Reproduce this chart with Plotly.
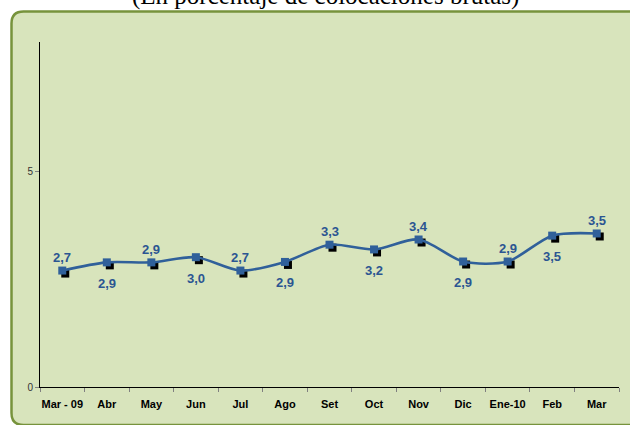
import plotly.graph_objects as go

categories = ["Mar - 09", "Abr", "May", "Jun", "Jul", "Ago", "Set", "Oct", "Nov", "Dic", "Ene-10", "Feb", "Mar"]
values = [2.70, 2.89, 2.89, 3.01, 2.70, 2.90, 3.30, 3.19, 3.42, 2.91, 2.91, 3.51, 3.56]
value_labels = ["2,7", "2,9", "2,9", "3,0", "2,7", "2,9", "3,3", "3,2", "3,4", "2,9", "2,9", "3,5", "3,5"]
label_side = ["top", "bottom", "top", "bottom", "top", "bottom", "top", "bottom", "top", "bottom", "top", "bottom", "top"]
title_text = "(En porcentaje de colocaciones brutas)"

W, H = 630, 425
L, R, T, B = 40, 11, 42, 38
pw, ph = W - L - R, H - T - B

LINE = "#30609a"
LABEL = "#2b5592"

fig = go.Figure()

# shadow squares (offset axes)
fig.add_trace(go.Scatter(
    x=categories, y=values, mode="markers",
    marker=dict(symbol="square", size=8, color="black"),
    xaxis="x2", yaxis="y2", hoverinfo="skip", showlegend=False))

# main line + markers on top
fig.add_trace(go.Scatter(
    x=categories, y=values, mode="lines+markers",
    line=dict(color=LINE, width=2.6, shape="spline", smoothing=0.8),
    marker=dict(symbol="square", size=8, color=LINE),
    xaxis="x3", yaxis="y3", showlegend=False))

n = len(categories)
dx = 3 / (pw / n)
dy = 3 / (ph / 8)

def px(x):
    return (x - L) / pw

def py(y):
    return (H - B - y) / ph

x0, x1, y0, y1, r = 11.5, 645, 11.5, 425, 12
path = (f"M {px(x0)},{py(y0 + r)} "
        f"Q {px(x0)},{py(y0)} {px(x0 + r)},{py(y0)} "
        f"L {px(x1 - r)},{py(y0)} "
        f"Q {px(x1)},{py(y0)} {px(x1)},{py(y0 + r)} "
        f"L {px(x1)},{py(y1 - r)} "
        f"Q {px(x1)},{py(y1)} {px(x1 - r)},{py(y1)} "
        f"L {px(x0 + r)},{py(y1)} "
        f"Q {px(x0)},{py(y1)} {px(x0)},{py(y1 - r)} Z")

hidden = dict(visible=False, automargin=False, fixedrange=True)

annotations = [dict(text=title_text, xref="paper", yref="paper",
                    x=px(325), y=py(12), xanchor="center", yanchor="bottom",
                    showarrow=False,
                    font=dict(family="Liberation Serif", size=25, color="black"))]
for c, v, t, s in zip(categories, values, value_labels, label_side):
    annotations.append(dict(
        text=t, x=c, y=v, xref="x", yref="y", showarrow=False,
        xanchor="center", yanchor="middle",
        yshift=13 if s == "top" else -21,
        font=dict(family="Arial", size=13, color=LABEL, weight="bold")))

fig.update_layout(
    width=W, height=H,
    margin=dict(l=L, r=R, t=T, b=B, autoexpand=False),
    paper_bgcolor="white",
    plot_bgcolor="rgba(0,0,0,0)",
    shapes=[dict(type="path", path=path, xref="paper", yref="paper",
                 fillcolor="#d8e4bc", line=dict(color="#77933c", width=2.5),
                 layer="below")],
    xaxis=dict(type="category", categoryarray=categories, range=[-0.5, n - 0.5],
               showgrid=False, showline=True, linecolor="black", linewidth=1,
               ticks="outside", tickson="boundaries", ticklen=4, tickcolor="#808080",
               tickangle=0, automargin=False, ticklabelstandoff=7,
               tickfont=dict(family="Arial", size=11, color="black", weight="bold"),
               fixedrange=True),
    yaxis=dict(range=[0, 8], tickvals=[0, 5], showgrid=False, zeroline=False,
               showline=True, linecolor="black", linewidth=1,
               ticks="outside", ticklen=4, tickcolor="#808080", automargin=False,
               tickfont=dict(family="Arial", size=10, color="#333333"), fixedrange=True),
    xaxis2=dict(type="category", overlaying="x", range=[-0.5 - dx, n - 0.5 - dx], **hidden),
    yaxis2=dict(overlaying="y", range=[dy, 8 + dy], **hidden),
    xaxis3=dict(type="category", overlaying="x", range=[-0.5, n - 0.5], **hidden),
    yaxis3=dict(overlaying="y", range=[0, 8], **hidden),
    annotations=annotations,
)

# x-axis needs a trace on xy to show category ticks
fig.add_trace(go.Scatter(x=categories, y=values, mode="lines",
                         line=dict(width=0, color="rgba(0,0,0,0)"),
                         hoverinfo="skip", showlegend=False))

fig.write_html("out.html", config={"displayModeBar": False},
               post_script="document.body.style.margin='0';")
